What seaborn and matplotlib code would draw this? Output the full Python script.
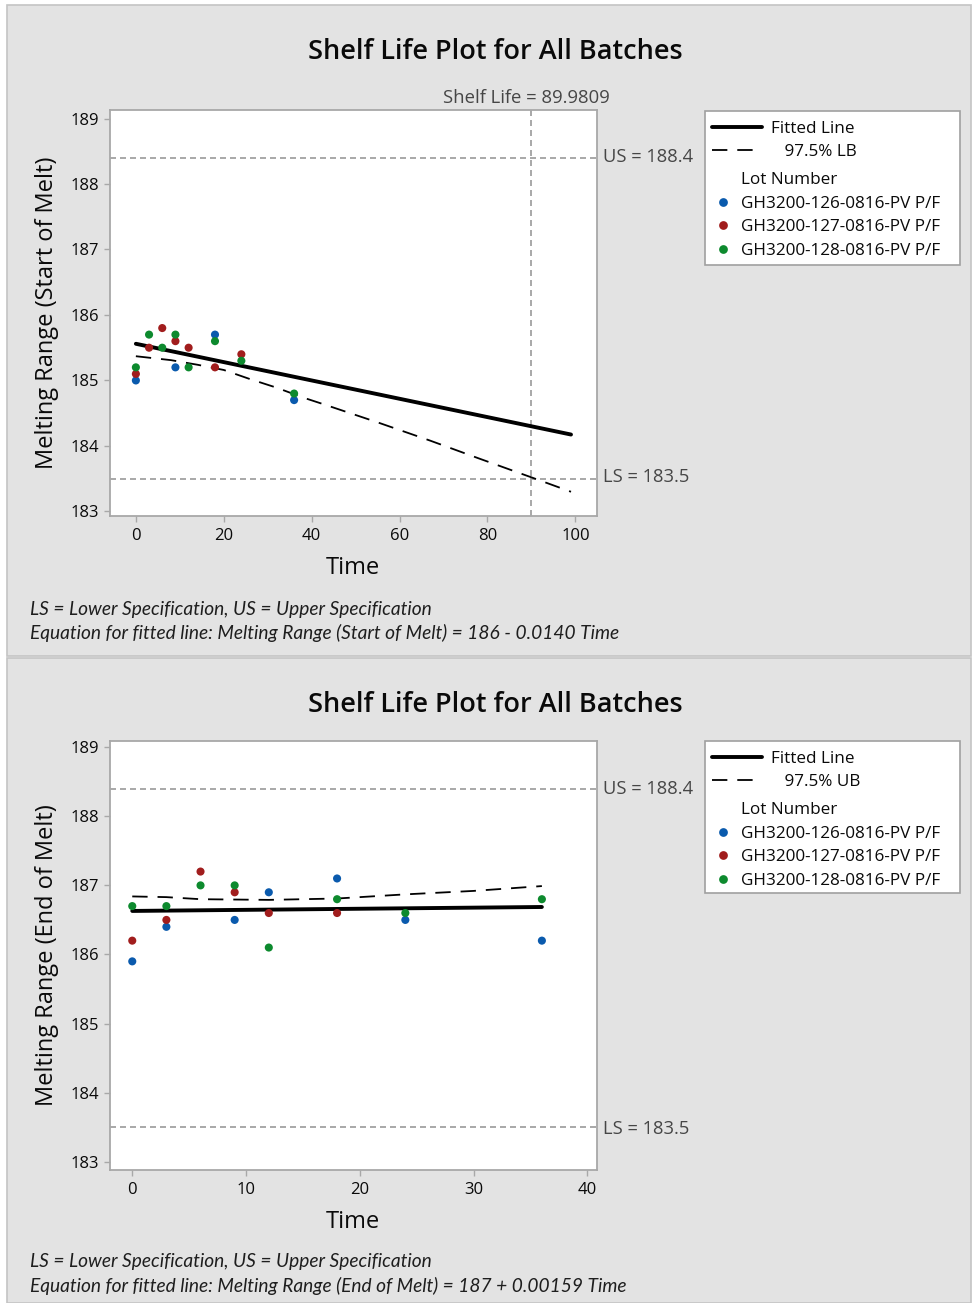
import numpy as np
import pandas as pd
import matplotlib
matplotlib.use("Agg")
import matplotlib.pyplot as plt
import seaborn as sns
from matplotlib.lines import Line2D
from matplotlib.patches import Rectangle

# ---------------- data ----------------
lots = ["GH3200-126-0816-PV P/F", "GH3200-127-0816-PV P/F", "GH3200-128-0816-PV P/F"]
lot_colors = ["#0a5aad", "#a11d1d", "#0d8a2e"]

# Start of melt
start_t_126 = [0, 9, 18, 36]
start_v_126 = [185.0, 185.2, 185.7, 184.7]
start_t_127 = [0, 3, 6, 9, 12, 18, 24]
start_v_127 = [185.1, 185.5, 185.8, 185.6, 185.5, 185.2, 185.4]
start_t_128 = [0, 3, 6, 9, 12, 18, 24, 36]
start_v_128 = [185.2, 185.7, 185.5, 185.7, 185.2, 185.6, 185.3, 184.8]
start_fit_t = [0, 99]
start_fit_intercept = 185.56
start_fit_slope = -0.0140
start_lb_t = [0, 8, 14, 20, 26, 32, 38, 43, 55, 67, 78, 90, 99]
start_lb_v = [185.37, 185.31, 185.24, 185.16, 185.02, 184.89, 184.74, 184.63,
              184.36, 184.08, 183.81, 183.52, 183.30]
shelf_life = 89.9809

# End of melt
end_t_126 = [0, 3, 9, 12, 18, 24, 36]
end_v_126 = [185.9, 186.4, 186.5, 186.9, 187.1, 186.5, 186.2]
end_t_127 = [0, 3, 6, 9, 12, 18]
end_v_127 = [186.2, 186.5, 187.2, 186.9, 186.6, 186.6]
end_t_128 = [0, 3, 6, 9, 12, 18, 24, 36]
end_v_128 = [186.7, 186.7, 187.0, 187.0, 186.1, 186.8, 186.6, 186.8]
end_fit_t = [0, 36]
end_fit_intercept = 186.63
end_fit_slope = 0.00159
end_ub_t = [0, 3, 6, 12, 18, 24, 30, 36]
end_ub_v = [186.84, 186.83, 186.80, 186.79, 186.81, 186.87, 186.92, 186.99]

upper_spec = 188.4
lower_spec = 183.5

start_xticks = [0, 20, 40, 60, 80, 100]
end_xticks = [0, 10, 20, 30, 40]
yticks = [183, 184, 185, 186, 187, 188, 189]

# ---------------- style ----------------
sns.set_theme(style="white")
plt.rcParams["font.family"] = ["Open Sans", "DejaVu Sans"]

W, H = 972, 1303
fig = plt.figure(figsize=(W / 100, H / 100), dpi=100)
fig.patch.set_facecolor("white")


def fx(px):
    return px / W


def fy(py):
    return 1 - py / H


def panel(y0, y1):
    fig.add_artist(Rectangle((fx(7), fy(y1)), (971 - 7) / W, (y1 - y0) / H,
                             transform=fig.transFigure, facecolor="#e3e3e3",
                             edgecolor="#c4c4c4", lw=1.2, zorder=-10))


panel(5, 656)
panel(658, 1303)

SPEC_C = "#9a9a9a"
SPINE_C = "#a8a8a8"
TXT_C = "#464646"
DARK = "#0a0a0a"


def long_df(ts, vs):
    rows = []
    for lot, t, v in zip(lots, ts, vs):
        for a, b in zip(t, v):
            rows.append((a, b, lot))
    return pd.DataFrame(rows, columns=["Time", "Value", "Lot"])


def style_axes(ax, xlim, ylim, xticks, ylabel, top, bottom):
    ax.set_xlim(*xlim)
    ax.set_ylim(*ylim)
    ax.set_xticks(xticks)
    ax.set_yticks(yticks)
    ax.set_facecolor("white")
    for s in ax.spines.values():
        s.set_color(SPINE_C)
        s.set_linewidth(1.3)
    ax.tick_params(axis="both", which="both", direction="out", length=4,
                   width=1, color=SPINE_C, labelsize=12, labelcolor=DARK,
                   pad=3.5, bottom=True, left=True)
    ax.tick_params(axis="x", pad=5)
    ax.set_xlabel("Time", fontsize=17, color=DARK, va="center")
    ax.set_ylabel(ylabel, fontsize=17, color=DARK, va="center")
    hpx = bottom - top
    ax.xaxis.set_label_coords(0.5, -52 / hpx)
    ax.yaxis.set_label_coords(-(109.5 - 47) / 487, 0.5)


def draw(ax, df, fit_t, icpt, slope, bound_t, bound_v):
    sns.scatterplot(data=df, x="Time", y="Value", hue="Lot", hue_order=lots,
                    palette=lot_colors, s=34, edgecolor="none", legend=False,
                    ax=ax, zorder=4)
    fit_t = np.array(fit_t, dtype=float)
    sns.lineplot(x=fit_t, y=icpt + slope * fit_t, color="black", lw=2.8,
                 estimator=None, ax=ax, zorder=3)
    sns.lineplot(x=bound_t, y=bound_v, color="black", lw=1.3,
                 linestyle=(0, (8.5, 5.5)), estimator=None, ax=ax, zorder=3)
    ax.axhline(upper_spec, color=SPEC_C, lw=1.2, ls=(0, (3.6, 2.4)), zorder=2)
    ax.axhline(lower_spec, color=SPEC_C, lw=1.2, ls=(0, (3.6, 2.4)), zorder=2)


# ---------- top panel ----------
top1, bot1 = 110, 516
ax1 = fig.add_axes([fx(109.5), fy(bot1), 487 / W, (bot1 - top1) / H])
df1 = long_df([start_t_126, start_t_127, start_t_128],
              [start_v_126, start_v_127, start_v_128])
draw(ax1, df1, start_fit_t, start_fit_intercept, start_fit_slope, start_lb_t, start_lb_v)
ax1.axvline(shelf_life, color=SPEC_C, lw=1.2, ls=(0, (3.6, 2.4)), zorder=2)
style_axes(ax1, (-6.0, 104.8), (182.93, 189.13), start_xticks,
           "Melting Range (Start of Melt)", top1, bot1)

# ---------- bottom panel ----------
top2, bot2 = 741, 1170
ax2 = fig.add_axes([fx(109.5), fy(bot2), 487 / W, (bot2 - top2) / H])
df2 = long_df([end_t_126, end_t_127, end_t_128],
              [end_v_126, end_v_127, end_v_128])
draw(ax2, df2, end_fit_t, end_fit_intercept, end_fit_slope, end_ub_t, end_ub_v)
style_axes(ax2, (-2.0, 40.8), (182.88, 189.09), end_xticks,
           "Melting Range (End of Melt)", top2, bot2)

# ---------- texts ----------
for y_title in (52, 705):
    fig.text(fx(495), fy(y_title), "Shelf Life Plot for All Batches", ha="center",
             va="center", fontsize=19.5, fontweight="semibold", color=DARK)

fig.text(fx(526), fy(98), "Shelf Life = 89.9809", ha="center", va="center",
         fontsize=13.3, color=TXT_C)
for yu, yl in ((157, 477), (789, 1129)):
    fig.text(fx(603), fy(yu), "US = 188.4", ha="left", va="center", fontsize=13.2, color=TXT_C)
    fig.text(fx(603), fy(yl), "LS = 183.5", ha="left", va="center", fontsize=13.2, color=TXT_C)

foot_kw = dict(ha="left", va="center", fontsize=13.8, style="italic", color="#1e1e1e",
               family=["Lato", "DejaVu Sans"])
fig.text(fx(30), fy(609), "LS = Lower Specification, US = Upper Specification", **foot_kw)
fig.text(fx(30), fy(633), "Equation for fitted line: Melting Range (Start of Melt) = 186 - 0.0140 Time", **foot_kw)
fig.text(fx(30), fy(1262), "LS = Lower Specification, US = Upper Specification", **foot_kw)
fig.text(fx(30), fy(1286), "Equation for fitted line: Melting Range (End of Melt) = 187 + 0.00159 Time", **foot_kw)


# ---------- legends ----------
def legend_block(y_box_top, y_box_bot, bound_label):
    fig.add_artist(Rectangle((fx(705), fy(y_box_bot)), (960 - 705) / W,
                             (y_box_bot - y_box_top) / H, transform=fig.transFigure,
                             facecolor="white", edgecolor="#a0a0a0", lw=1.2, zorder=1))
    h1 = [Line2D([], [], color="black", lw=2.8),
          Line2D([], [], color="black", lw=1.3, ls=(0, (8.5, 5.5)))]
    lg1 = fig.legend(h1, ["Fitted Line", "   " + bound_label], loc="upper left",
                     bbox_to_anchor=(fx(712), fy(y_box_top + 10)), frameon=False,
                     fontsize=12.3, handlelength=2.9, handletextpad=0.55,
                     borderpad=0, borderaxespad=0, labelspacing=0.42)
    lg1.set_zorder(5)
    for t in lg1.get_texts():
        t.set_color(DARK)
    h2 = [Line2D([], [], ls="none")] + [
        Line2D([], [], ls="none", marker="o", markersize=6.3, markeredgewidth=0,
               color=c) for c in lot_colors]
    lg2 = fig.legend(h2, ["Lot Number"] + lots, loc="upper left",
                     bbox_to_anchor=(fx(715), fy(y_box_top + 61)), frameon=False,
                     fontsize=12.3, handlelength=0.95, handletextpad=0.6,
                     borderpad=0, borderaxespad=0, labelspacing=0.45)
    lg2.set_zorder(5)
    for t in lg2.get_texts():
        t.set_color(DARK)


legend_block(111, 265, "97.5% LB")
legend_block(741, 893, "97.5% UB")

fig.savefig("out.png", dpi=100, facecolor="white")
